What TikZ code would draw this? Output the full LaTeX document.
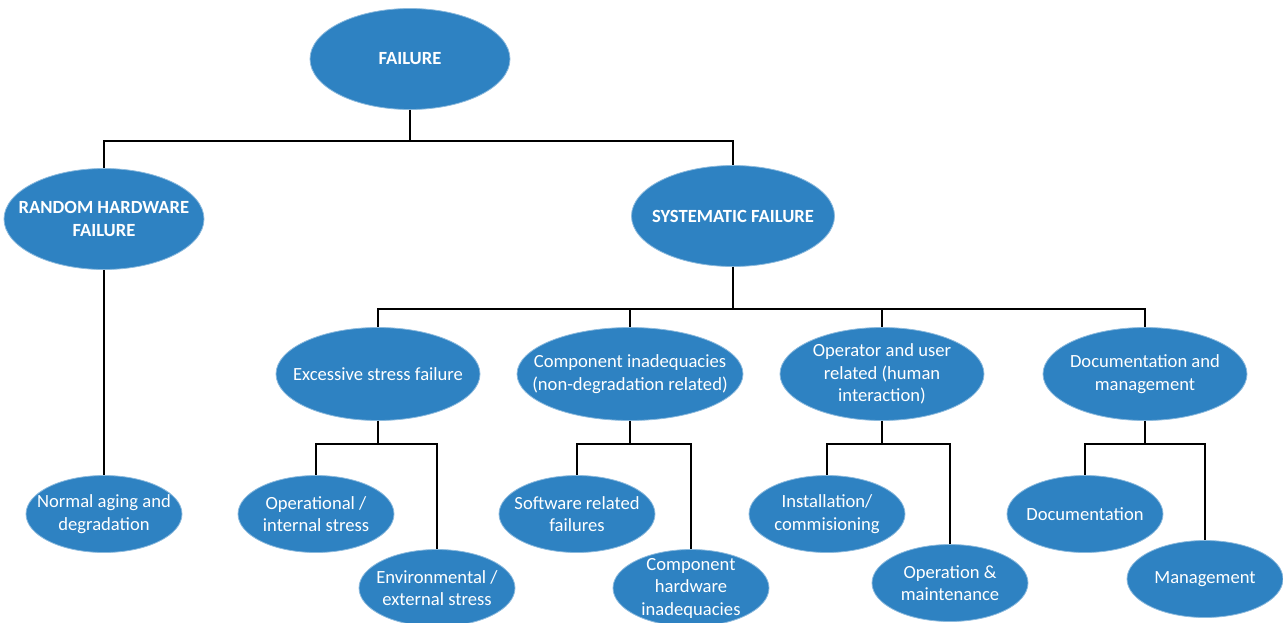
\documentclass[tikz,border=0pt]{standalone}
\usepackage{fontspec}
\setmainfont{Carlito}
\usetikzlibrary{shapes.geometric}
\definecolor{ellblue}{RGB}{46,130,194}
\tikzstyle{base} = [ellipse, fill=ellblue, draw=ellblue!55!white, line width=0.8pt, text=white, align=center, inner sep=-200pt, font=\fontsize{18.6}{22.5}\selectfont]
\tikzstyle{big} = [base, minimum width=200pt, minimum height=101pt, font=\fontsize{18.6}{22.5}\selectfont\bfseries]
\tikzstyle{mid} = [base, minimum width=204pt, minimum height=93pt]
\tikzstyle{leaf} = [base, minimum width=156pt, minimum height=77pt]
\tikzstyle{link} = [line width=2pt, black]

\begin{document}
\begin{tikzpicture}[x=1pt, y=1pt]
	\useasboundingbox (0,0) rectangle (1283,-622);
	\node (failure) [big] at (410,-59) {FAILURE};
	\node (random) [big] at (104,-219) {RANDOM HARDWARE\\FAILURE};
	\node (system) [big, minimum width=203pt] at (733,-216) {SYSTEMATIC FAILURE};
	\node (stress) [mid] at (378,-374) {Excessive stress failure};
	\node (compin) [mid, minimum width=226pt] at (630,-374) {Component inadequacies\\(non-degradation related)};
	\node (human) [mid] at (882,-374) {Operator and user\\related (human\\interaction)};
	\node (docman) [mid] at (1145,-374) {Documentation and\\management};
	\node (aging) [leaf] at (104,-514) {Normal aging and\\degradation};
	\node (intstr) [leaf] at (316,-514) {Operational /\\internal stress};
	\node (extstr) [leaf] at (437,-588) {Environmental /\\external stress};
	\node (softw) [leaf] at (577,-514) {Software related\\failures};
	\node (hwin) [leaf] at (691,-588) {Component\\hardware\\inadequacies};
	\node (install) [leaf] at (827,-514) {Installation/\\commisioning};
	\node (opmaint) [leaf] at (950,-583) {Operation \&\\maintenance};
	\node (docu) [leaf] at (1085,-514) {Documentation};
	\node (manage) [leaf] at (1205,-579) {Management};
	\draw [link] (failure.south) -- ++(0,-31) -| (random.north);
	\draw [link] (failure.south) -- ++(0,-31) -| (system.north);
	\draw [link] (random.south) -- (aging.north);
	\draw [link] (system.south) -- ++(0,-42) -| (stress.north);
	\draw [link] (system.south) -- ++(0,-42) -| (compin.north);
	\draw [link] (system.south) -- ++(0,-42) -| (human.north);
	\draw [link] (system.south) -- ++(0,-42) -| (docman.north);
	\draw [link] (stress.south) -- ++(0,-23) -| (intstr.north);
	\draw [link] (stress.south) -- ++(0,-23) -| (extstr.north);
	\draw [link] (compin.south) -- ++(0,-23) -| (softw.north);
	\draw [link] (compin.south) -- ++(0,-23) -| (hwin.north);
	\draw [link] (human.south) -- ++(0,-23) -| (install.north);
	\draw [link] (human.south) -- ++(0,-23) -| (opmaint.north);
	\draw [link] (docman.south) -- ++(0,-23) -| (docu.north);
	\draw [link] (docman.south) -- ++(0,-23) -| (manage.north);
\end{tikzpicture}
\end{document}
